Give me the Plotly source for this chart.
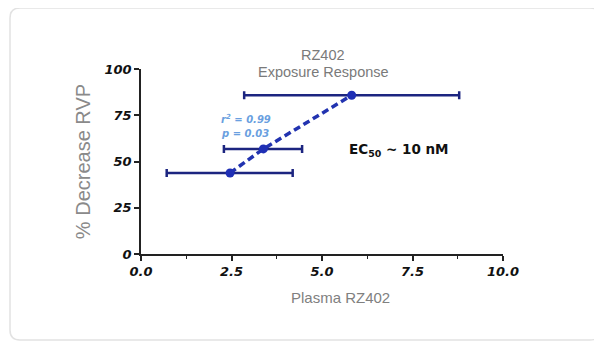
import plotly.graph_objects as go

# Data
plasma = [2.46, 3.38, 5.82]
decrease = [43.8, 56.8, 85.8]
err_minus = [1.75, 1.09, 2.97]
err_plus = [1.73, 1.07, 2.97]
x_ticks = [0, 2.5, 5, 7.5, 10]
x_tick_labels = ["0.0", "2.5", "5.0", "7.5", "10.0"]
y_ticks = [0, 25, 50, 75, 100]
y_tick_labels = ["0", "25", "50", "75", "100"]

OFF = 8  # page body margin
W, H = 602 - OFF, 342 - OFF
L, T = 141 - OFF, 69 - OFF
pw, ph = 362, 185
R, B = W - L - pw, H - T - ph

def px(xp):
    return (xp - OFF - L) / pw

def py(yp):
    return (T + ph - (yp - OFF)) / ph

fig = go.Figure()
fig.add_trace(go.Scatter(
    x=plasma, y=decrease, mode="lines",
    line=dict(color="#2233b0", width=3.5, dash="7px,4px"),
    hoverinfo="skip", showlegend=False,
))
fig.add_trace(go.Scatter(
    x=plasma, y=decrease, mode="markers",
    marker=dict(color="#1f2fb5", size=9),
    error_x=dict(type="data", symmetric=False, array=err_plus, arrayminus=err_minus,
                 color="#1c2580", thickness=2.5, width=4),
    showlegend=False,
))

tickfont = dict(family="DejaVu Sans", size=13, color="#111", weight="bold", style="italic")
fig.update_xaxes(
    range=[0, 10], tickvals=x_ticks, ticktext=x_tick_labels,
    showgrid=False, zeroline=False, showline=True, linecolor="#222", linewidth=1.5,
    ticks="outside", ticklen=5, tickwidth=1.5, tickcolor="#222", tickfont=tickfont,
    minor=dict(ticks="outside", ticklen=3, tickwidth=1.2, tickcolor="#222", dtick=1.25, showgrid=False),
)
fig.update_yaxes(
    range=[0, 100], tickvals=y_ticks, ticktext=y_tick_labels,
    showgrid=False, zeroline=False, showline=True, linecolor="#222", linewidth=1.5,
    ticks="outside", ticklen=5, tickwidth=1.5, tickcolor="#222", tickfont=tickfont,
    title=dict(text="% Decrease RVP", font=dict(family="Liberation Sans", size=20, color="#8a8a8a"), standoff=9),
)

def note(text, x, y, font, xanchor="center"):
    return dict(text=text, x=px(x), y=py(y), xref="paper", yref="paper",
                xanchor=xanchor, yanchor="middle", showarrow=False, font=font)

gray = dict(family="Liberation Sans", size=14.5, color="#7a7a7a")
blue = dict(family="DejaVu Sans", size=10, color="#6a9fe0", weight="bold", style="italic")
ann = [
    note("RZ402", 323, 55, gray),
    note("Exposure Response", 323, 72, gray),
    note("Plasma RZ402", 340, 297, dict(family="Liberation Sans", size=15, color="#808080")),
    note("r<sup>2</sup> = 0.99", 219, 119, blue, "left"),
    note("p = 0.03", 219, 133, blue, "left"),
    note("EC<sub>50</sub> ~ 10 nM", 347, 150,
         dict(family="DejaVu Sans", size=13.5, color="#111", weight="bold"), "left"),
]

# rounded card border
x0, x1, y0, y1, r = px(10), px(600), py(8), py(340), 10
rx, ry = r / pw, r / ph
path = (f"M {x0+rx},{y0} L {x1-rx},{y0} Q {x1},{y0} {x1},{y0-ry} "
        f"L {x1},{y1+ry} Q {x1},{y1} {x1-rx},{y1} L {x0+rx},{y1} Q {x0},{y1} {x0},{y1+ry} "
        f"L {x0},{y0-ry} Q {x0},{y0} {x0+rx},{y0} Z")

fig.update_layout(
    width=W, height=H, margin=dict(l=L, r=R, t=T, b=B),
    plot_bgcolor="white", paper_bgcolor="white",
    annotations=ann,
    shapes=[dict(type="path", path=path, xref="paper", yref="paper",
                 line=dict(color="#e2e2e2", width=1.5), layer="below")],
)
fig.write_html("out.html")
